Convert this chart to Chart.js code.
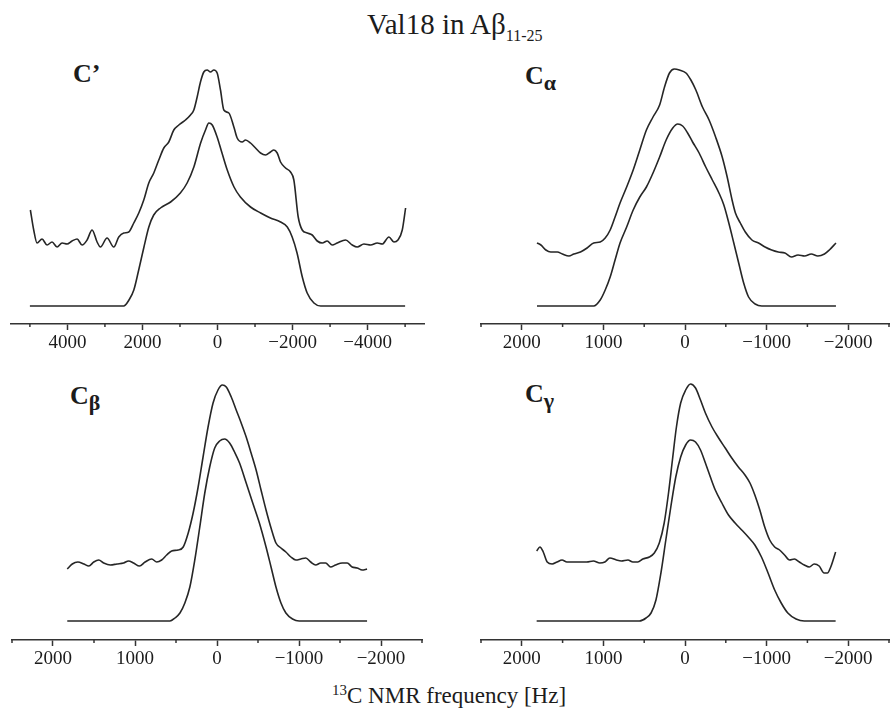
<!DOCTYPE html>
<html>
<head>
<meta charset="utf-8">
<script src="https://cdn.jsdelivr.net/npm/chart.js@4.4.1/dist/chart.umd.min.js"></script>
<style>
  body { margin:0; background:#fff; width:891px; height:708px; position:relative; overflow:hidden;
         font-family:'Liberation Serif','Times New Roman',serif; color:#1c1c1c; }
  canvas { position:absolute; }
  .txt { position:absolute; white-space:nowrap; }
  .title { left:367px; top:10px; font-size:29px; line-height:29px; }
  .title sub { font-size:16px; vertical-align:-7px; }
  .xlab { left:332px; top:679px; font-size:23px; line-height:23px; }
  .xlab sup { font-size:15px; vertical-align:8px; }
  .lbl { font-size:26px; line-height:26px; font-weight:bold; }
  .lbl sub { font-size:22px; vertical-align:-6px; font-weight:bold; }
</style>
</head>
<body>
<div class="txt title">Val18 in Aβ<sub>11-25</sub></div>
<div class="txt lbl" style="left:73px;top:61px">C’</div>
<div class="txt lbl" style="left:525px;top:63px">C<sub>α</sub></div>
<div class="txt lbl" style="left:70px;top:383px">C<sub>β</sub></div>
<div class="txt lbl" style="left:525px;top:381px">C<sub>γ</sub></div>
<div class="txt xlab"><sup>13</sup>C NMR frequency [Hz]</div>

<canvas id="pCp"></canvas>
<canvas id="pCa"></canvas>
<canvas id="pCb"></canvas>
<canvas id="pCg"></canvas>

<script>
/* ── DATA  [frequency Hz, intensity a.u.] ── */
// tick positions (labelled ones are multiples of the panel's major step)
const cpTicks = [5000,4000,3000,2000,1000,0,-1000,-2000,-3000,-4000,-5000];
const narrowTicks = [2500,2000,1500,1000,500,0,-500,-1000,-1500,-2000,-2500];

// C' — simulated (lower) and experimental (upper)
const cpSim = [[5000,0],[2500,0],[2360,6],[2230,16],[2100,36],[1960,59],[1830,79],[1700,91],[1520,98],
  [1250,104],[990,113],[810,123],[630,139],[450,163],[320,176],[230,183],[140,181],[10,169],[-120,153],
  [-260,136],[-440,119],[-610,109],[-880,99],[-1150,93],[-1410,88],[-1680,84],[-1860,79],[-1990,69],
  [-2120,53],[-2260,29],[-2390,13],[-2570,3],[-2750,0],[-5000,0]];
const cpExp = [[4987,96],[4898,76],[4809,63],[4676,67],[4543,61],[4409,64],[4276,59],[4142,63],[4009,62],
  [3876,65],[3742,67],[3609,61],[3476,66],[3342,76],[3209,64],[3120,59],[2943,68],[2765,59],[2631,69],
  [2498,73],[2365,74],[2231,83],[2098,93],[1965,106],[1831,123],[1698,133],[1565,146],[1431,158],
  [1298,164],[1165,176],[1031,181],[854,186],[720,191],[631,196],[542,209],[454,224],[365,234],[276,236],
  [187,234],[98,236],[9,233],[-80,216],[-169,196],[-302,193],[-436,179],[-524,168],[-658,164],[-747,166],
  [-880,163],[-1013,158],[-1147,153],[-1280,151],[-1413,154],[-1502,156],[-1591,153],[-1680,144],
  [-1813,138],[-1946,134],[-2035,126],[-2151,89],[-2258,76],[-2391,73],[-2524,71],[-2658,65],[-2791,63],
  [-2924,65],[-3058,61],[-3191,63],[-3413,66],[-3591,61],[-3724,59],[-3902,62],[-4080,61],[-4258,63],
  [-4391,62],[-4569,69],[-4702,64],[-4809,66],[-4924,76],[-5013,98]];

// C alpha
const caSim = [[1814,0],[1119,0],[1039,6],[978,16],[917,29],[857,46],[796,63],[715,79],[635,96],[554,109],
  [473,119],[392,133],[311,149],[231,166],[150,178],[89,182],[29,180],[-32,173],[-93,164],[-173,153],
  [-254,139],[-335,126],[-416,113],[-476,101],[-537,83],[-598,63],[-658,43],[-719,23],[-779,9],[-860,2],
  [-941,0],[-1850,0]];
const caExp = [[1814,63],[1766,61],[1705,56],[1645,54],[1564,54],[1503,52],[1422,50],[1362,52],[1281,54],
  [1200,58],[1119,63],[1039,64],[978,68],[917,76],[857,89],[796,103],[715,119],[635,136],[554,156],
  [473,176],[392,189],[311,201],[251,219],[190,233],[130,237],[69,236],[-12,233],[-72,226],[-133,216],
  [-214,199],[-295,186],[-375,169],[-456,149],[-517,129],[-577,106],[-618,93],[-678,83],[-739,74],
  [-820,66],[-901,63],[-981,59],[-1062,56],[-1143,54],[-1224,53],[-1305,49],[-1385,51],[-1466,50],
  [-1547,52],[-1628,50],[-1709,52],[-1769,56],[-1850,63]];

// C beta
const cbSim = [[1826,0],[574,0],[513,3],[452,8],[392,18],[331,34],[271,61],[210,94],[149,128],[89,154],
  [28,173],[-32,180],[-93,182],[-154,178],[-214,169],[-275,158],[-356,138],[-436,118],[-517,98],
  [-598,74],[-659,54],[-719,34],[-780,18],[-840,8],[-921,2],[-1002,0],[-1830,0]];
const cbExp = [[1826,52],[1765,57],[1697,59],[1624,57],[1563,55],[1503,59],[1442,61],[1382,58],[1301,56],
  [1220,57],[1139,58],[1079,60],[1018,58],[945,55],[877,59],[796,62],[735,59],[675,61],[614,66],[553,70],
  [473,71],[412,74],[351,88],[291,108],[230,134],[170,164],[109,194],[48,218],[-12,231],[-65,236],
  [-113,234],[-174,224],[-234,211],[-295,198],[-356,184],[-416,168],[-477,151],[-537,131],[-598,111],
  [-659,93],[-719,78],[-780,73],[-840,69],[-901,64],[-962,61],[-1022,62],[-1083,63],[-1143,59],
  [-1204,56],[-1265,58],[-1325,58],[-1386,54],[-1446,56],[-1527,58],[-1588,58],[-1648,54],[-1709,53],
  [-1770,51],[-1830,52]];

// C gamma
const cgSim = [[1818,0],[558,0],[477,3],[416,8],[356,21],[295,48],[235,81],[174,114],[113,144],[53,164],
  [-8,176],[-68,181],[-129,179],[-190,171],[-250,158],[-311,144],[-371,131],[-452,118],[-533,106],
  [-614,98],[-695,91],[-775,84],[-856,76],[-937,64],[-1018,48],[-1099,31],[-1179,18],[-1260,8],
  [-1361,2],[-1462,0],[-1846,0]];
const cgExp = [[1818,70],[1778,74],[1737,69],[1689,59],[1628,57],[1568,59],[1507,61],[1447,59],[1366,59],
  [1285,59],[1204,59],[1123,60],[1043,58],[982,59],[921,63],[841,61],[780,60],[699,61],[639,59],[578,59],
  [517,62],[437,64],[376,68],[315,78],[255,98],[202,128],[154,161],[105,194],[53,218],[-8,231],[-68,237],
  [-129,233],[-190,221],[-250,208],[-331,194],[-412,183],[-493,173],[-573,163],[-654,154],[-735,146],
  [-796,138],[-856,126],[-917,111],[-977,94],[-1038,81],[-1099,74],[-1159,71],[-1220,66],[-1281,61],
  [-1341,62],[-1402,59],[-1462,56],[-1523,54],[-1583,57],[-1644,55],[-1705,48],[-1745,48],[-1786,54],
  [-1846,69]];

/* ── STYLE ── */
const INK = '#262626';
const AXIS = '#333';
const FONT = "'Liberation Serif','Times New Roman',serif";

/* ── MINOR TICKS (shorter, unlabelled) ── */
const minorTicks = {
  id: 'minorTicks',
  afterDraw(chart, args, opts) {
    const sc = chart.scales.x, ctx = chart.ctx, y0 = chart.chartArea.bottom;
    ctx.save();
    ctx.strokeStyle = AXIS;
    ctx.lineWidth = 1.5;
    sc.ticks.forEach(t => {
      if (Math.abs(t.value) % opts.major === 0) return;
      const px = sc.getPixelForValue(t.value);
      ctx.beginPath();
      ctx.moveTo(px, y0);
      ctx.lineTo(px, y0 + 3);
      ctx.stroke();
    });
    ctx.restore();
  }
};

const fmt = v => v < 0 ? '\u2212' + Math.abs(v) : String(v);
const pts = arr => arr.map(([x, y]) => ({ x, y }));

function buildPanel(id, left, top, w, h, lim, tickVals, major, yMin, yMax, sim, exp) {
  const cv = document.getElementById(id);
  cv.width = w; cv.height = h;
  cv.style.left = left + 'px'; cv.style.top = top + 'px';
  cv.style.width = w + 'px'; cv.style.height = h + 'px';

  const line = data => ({
    data: pts(data),
    borderColor: INK,
    borderWidth: 1.6,
    pointRadius: 0,
    fill: false,
    cubicInterpolationMode: 'monotone'
  });

  new Chart(cv, {
    type: 'line',
    data: { datasets: [line(exp), line(sim)] },
    options: {
      responsive: false,
      animation: false,
      devicePixelRatio: 1,
      layout: { padding: 0 },
      plugins: { legend: { display: false }, tooltip: { enabled: false }, minorTicks: { major } },
      scales: {
        x: {
          type: 'linear',
          reverse: true,
          min: -lim, max: lim,
          afterBuildTicks: s => { s.ticks = tickVals.map(v => ({ value: v })); },
          afterFit: s => { s.height = 30; },
          border: { display: true, color: AXIS, width: 1.5 },
          grid: {
            drawOnChartArea: false,
            tickLength: 6,
            tickWidth: 1.5,
            tickColor: c => (c.tick && Math.abs(c.tick.value) % major === 0) ? AXIS : 'rgba(0,0,0,0)'
          },
          ticks: {
            autoSkip: false,
            maxRotation: 0,
            padding: 2,
            color: '#1c1c1c',
            font: { family: FONT, size: 19 },
            callback: v => Math.abs(v) % major === 0 ? fmt(v) : ''
          }
        },
        y: { display: false, min: yMin, max: yMax }
      }
    },
    plugins: [minorTicks]
  });
}

/* ── INIT ── */
buildPanel('pCp', 10, 40, 415, 314, 5530, cpTicks, 2000, -18, 266, cpSim, cpExp);
buildPanel('pCa', 479, 40, 412, 314, 2500, narrowTicks, 1000, -18, 266, caSim, caExp);
buildPanel('pCb', 10, 370, 414, 300, 2500, narrowTicks, 1000, -19, 251, cbSim, cbExp);
buildPanel('pCg', 479, 370, 412, 300, 2500, narrowTicks, 1000, -19, 251, cgSim, cgExp);
</script>
</body>
</html>
